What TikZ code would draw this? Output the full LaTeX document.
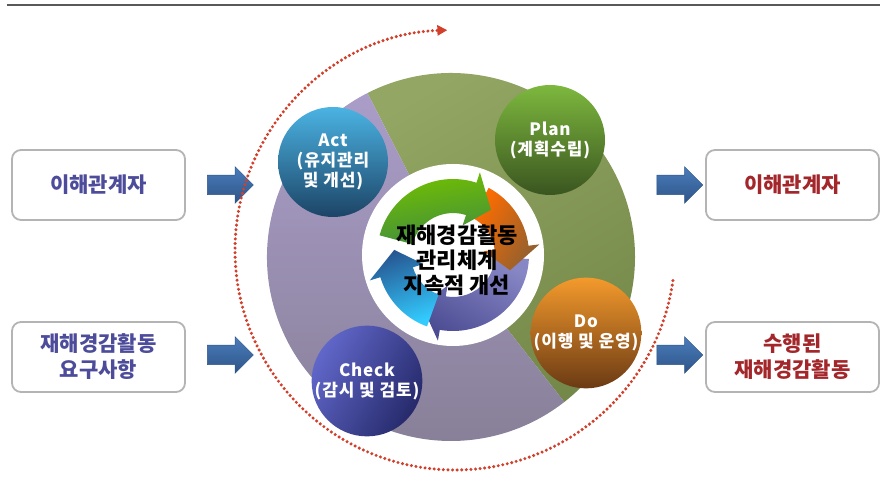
\documentclass[tikz,border=0pt]{standalone}
\usepackage{fontspec}
\setmainfont{Noto Sans CJK KR}
\newfontfamily\phasefont{Noto Sans CJK KR}[LetterSpace=5]
\usetikzlibrary{shapes.arrows,arrows.meta}
\definecolor{boxgray}{HTML}{B4B4B4}
\definecolor{inblue}{HTML}{4D4C9B}
\definecolor{outred}{HTML}{A3262A}
\definecolor{arrowblue}{HTML}{4A7DBB}
\definecolor{arrowdark}{HTML}{2E5488}
\definecolor{loopred}{HTML}{D2402C}
\definecolor{greenlight}{HTML}{93A663}
\definecolor{greendark}{HTML}{748849}
\definecolor{lavtop}{HTML}{AA9DC9}
\definecolor{lavbottom}{HTML}{888098}
\definecolor{acttop}{HTML}{4BB3E3}
\definecolor{actbot}{HTML}{1C4466}
\definecolor{plantop}{HTML}{7DB83E}
\definecolor{planbot}{HTML}{3A5520}
\definecolor{dotop}{HTML}{F39A2C}
\definecolor{dobot}{HTML}{6B3A14}
\definecolor{checktop}{HTML}{6167C9}
\definecolor{checkbot}{HTML}{262A6B}
\tikzset{
    box/.style =    {rectangle,
                    rounded corners=9pt,
                    fill=white,
                    draw=boxgray,
                    line width=1.8pt,
                    minimum width=173pt,
                    minimum height=70pt,
                    align=center,
                    font=\bfseries\fontsize{21}{26}\selectfont},
    inbox/.style =  {box, text=inblue},
    outbox/.style = {box, text=outred},
    pusher/.style = {single arrow,
                    top color=arrowblue,
                    bottom color=arrowdark,
                    draw=arrowdark,
                    line width=0.5pt,
                    inner xsep=0pt,
                    inner ysep=9.5pt,
                    minimum height=46pt,
                    single arrow head extend=8.5pt},
    phase/.style =  {circle,
                    shading angle=45,
                    text=white,
                    align=center,
                    inner sep=0pt,
                    minimum size=110pt,
                    font=\phasefont\bfseries\fontsize{17}{20}\selectfont},
    core/.style =   {align=center,
                    text=black,
                    font=\bfseries\fontsize{22}{25}\selectfont},
    loop/.style =   {draw=loopred,
                    line width=3.4pt,
                    line cap=round,
                    dash pattern=on 0pt off 4.6pt,
                    -{Triangle[length=10pt,width=10pt,fill=loopred]}},
    x=1pt, y=1pt}

\newcommand{\cyclearrow}[3]{%
    \shade[#3] (#1:76) arc[start angle=#1, end angle=#2+22, radius=76]
        -- (#2+22:87) -- (#2:59) -- (#2+22:31) -- (#2+22:42)
        arc[start angle=#2+22, end angle=#1, radius=42] -- cycle;}

\begin{document}
\begin{tikzpicture}
    \useasboundingbox (0,0) rectangle (883,497);
    \draw[line width=1.5pt, draw=black!65] (7,492) -- (880,492);

    \begin{scope}[shift={(451,240)}]
        \shade[top color=greenlight, bottom color=greendark, shading angle=30]
            (0,0) -- (-52:184) arc[start angle=-52, end angle=117, radius=184] -- cycle;
        \shade[top color=lavtop, bottom color=lavbottom]
            (0,0) -- (117:184) arc[start angle=117, end angle=308, radius=184] -- cycle;
    \end{scope}
    \fill[white] (453,242) circle (91);

    \begin{scope}[shift={(453,242)}]
        \cyclearrow{-3}{-122}{top color=blue!35!gray!70, bottom color=blue!40!black!70, shading angle=-30}
        \cyclearrow{62}{-15}{top color=orange!85!red, bottom color=brown!75!black, shading angle=60}
        \cyclearrow{250}{175}{top color=cyan!75!blue!80, bottom color=cyan!45!blue!50!black!85, shading angle=200}
        \cyclearrow{165}{50}{top color=green!55!black!55!yellow, bottom color=green!40!black!75, shading angle=10}
    \end{scope}

    \node[core]   (center) at (457,237)   {재해경감활동\\관리체계\\지속적 개선};

    \node[phase, top color=acttop, bottom color=actbot]
                  (act)   at (333,335)   {Act\\(유지관리\\및 개선)};
    \node[phase, top color=plantop, bottom color=planbot]
                  (plan)  at (550,357)   {Plan\\(계획수립)};
    \node[phase, top color=dotop, bottom color=dobot]
                  (do)    at (586,164)   {Do\\(이행 및 운영)};
    \node[phase, top color=checktop, bottom color=checkbot, shading angle=60]
                  (check) at (367,116)   {Check\\(감시 및 검토)};

    \node[inbox]  (party)  at (98.5,312)  {이해관계자};
    \node[inbox]  (demand) at (98.5,140)  {재해경감활동\\요구사항};
    \node[outbox] (gain)   at (792.5,312) {이해관계자};
    \node[outbox] (done)   at (792.5,140) {수행된\\재해경감활동};

    \node[pusher] (inA)  at (225.5,312) {};
    \node[pusher] (inB)  at (225.5,142) {};
    \node[pusher] (outA) at (675,312)   {};
    \node[pusher] (outB) at (675,142)   {};

    \coordinate (loopstart) at (672.9,216.4);
    \draw[loop] (loopstart) arc[start angle=-8, end angle=-268, radius=220];
\end{tikzpicture}
\end{document}
